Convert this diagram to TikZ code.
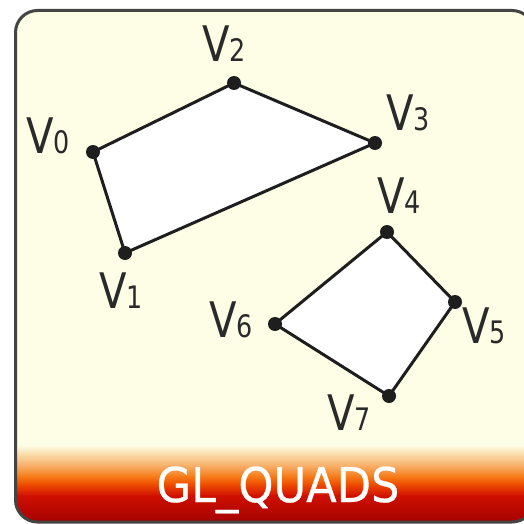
\documentclass[tikz,border=0pt]{standalone}
\usepackage{fontspec}
\newfontfamily\labfont[FakeStretch=0.82]{DejaVu Sans}
\newfontfamily\banfont[FakeStretch=0.93,FakeBold=0.6]{DejaVu Sans}
\newcommand\vlab[1]{{\fontsize{49}{49}\selectfont V}{\fontsize{31}{31}\selectfont #1}}
\definecolor{cream}{HTML}{FEFDE6}
\definecolor{bpeach}{HTML}{F9D6A0}
\definecolor{blorange}{HTML}{F8AE68}
\definecolor{borange}{HTML}{F57A16}
\definecolor{bredor}{HTML}{EE4A00}
\definecolor{bred}{HTML}{D01000}
\definecolor{bdred}{HTML}{A00000}
\definecolor{ink}{HTML}{1E1E1E}
\definecolor{labc}{HTML}{2A2A2A}
\definecolor{framec}{HTML}{444444}
\tikzset{
  vdot/.style={circle,fill=ink,inner sep=0pt,minimum size=14pt},
  vlabel/.style={font=\labfont,text=labc,inner sep=0pt,anchor=base west},
  edge/.style={draw=ink,line width=3pt,line join=round},
  quad/.style={fill=white},
}
\begin{document}
\begin{tikzpicture}[x=1pt,y=-1pt]
\useasboundingbox (0,0) rectangle (523,524);
\fill[white] (0,0) rectangle (523,524);
% frame
\path[fill=cream,rounded corners=22pt] (15.5,10.5) rectangle (534,522);
\begin{scope}
\clip[rounded corners=22pt] (15.5,10.5) rectangle (534,522);
\shade[top color=cream,bottom color=bpeach] (0,445) rectangle (540,456);
\shade[top color=bpeach,bottom color=blorange] (0,455.5) rectangle (540,466);
\shade[top color=blorange,bottom color=borange] (0,465.5) rectangle (540,477);
\shade[top color=borange,bottom color=bredor] (0,476.5) rectangle (540,485);
\shade[top color=bredor,bottom color=bred] (0,484.5) rectangle (540,496);
\shade[top color=bred,bottom color=bdred] (0,495.5) rectangle (540,524);
\end{scope}
\draw[framec,line width=3pt,rounded corners=22pt] (15.5,10.5) rectangle (534,522);
\node[font=\banfont\fontsize{48}{48}\selectfont,text=white,anchor=base,inner sep=0pt] (title) at (278,502) {GL\_QUADS};
% vertices
\coordinate (c0) at (93,152);
\coordinate (c1) at (125,253);
\coordinate (c2) at (234,83);
\coordinate (c3) at (375,143);
\coordinate (c4) at (387,232);
\coordinate (c5) at (455,302);
\coordinate (c6) at (275,324);
\coordinate (c7) at (389,396);
\fill[quad] (c0) -- (c2) -- (c3) -- (c1) -- cycle;
\fill[quad] (c4) -- (c5) -- (c7) -- (c6) -- cycle;
\draw[edge] (c0) -- (c2) -- (c3) -- (c1) -- cycle;
\draw[edge] (c4) -- (c5) -- (c7) -- (c6) -- cycle;
\foreach \i in {0,...,7} {\node[vdot] (v\i) at (c\i) {};}
% labels
\node[vlabel] (l0) at (26,153) {\vlab{0}};
\node[vlabel] (l1) at (99,308) {\vlab{1}};
\node[vlabel] (l2) at (202,62) {\vlab{2}};
\node[vlabel] (l3) at (386,131) {\vlab{3}};
\node[vlabel] (l4) at (377,213) {\vlab{4}};
\node[vlabel] (l5) at (462,343) {\vlab{5}};
\node[vlabel] (l6) at (209,337) {\vlab{6}};
\node[vlabel] (l7) at (327,430) {\vlab{7}};
\end{tikzpicture}
\end{document}
